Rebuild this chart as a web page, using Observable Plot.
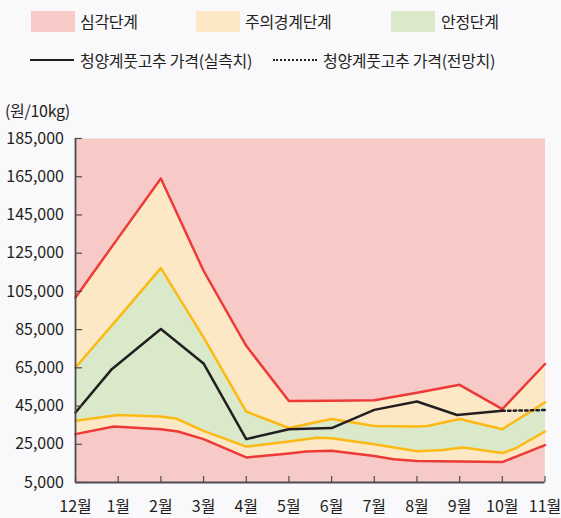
<!DOCTYPE html>
<html>
<head>
<meta charset="utf-8">
<script src="https://cdn.jsdelivr.net/npm/d3@7"></script>
<script src="https://cdn.jsdelivr.net/npm/@observablehq/plot@0.6"></script>
<style>
  html, body { margin: 0; padding: 0; background: #f9f8fb; }
  body { width: 561px; height: 518px; overflow: hidden; font-family: "Noto Sans CJK KR", "Noto Sans", sans-serif; color: #231f20; }
  #legend { position: relative; width: 561px; height: 120px; }
  .sw { position: absolute; width: 44px; height: 21px; top: 11px; }
  .lt { position: absolute; font-size: 16px; line-height: 20px; white-space: nowrap; letter-spacing: -0.3px; }
  .ln { position: absolute; width: 44px; top: 59px; }
  #unit { position: absolute; left: 5px; top: 100px; font-size: 16px; line-height: 20px; letter-spacing: -0.3px; }
  #chart svg { display: block; }
</style>
</head>
<body>
<div id="legend"></div>
<div id="chart"></div>
<script>
// ---- data (month index: 0 = 12월 ... 11 = 11월; value in 원/10kg) ----
const monthLabels = ["12월","1월","2월","3월","4월","5월","6월","7월","8월","9월","10월","11월"];
const yTicks = [5000, 25000, 45000, 65000, 85000, 105000, 125000, 145000, 165000, 185000];
const legendLabels = ["심각단계", "주의경계단계", "안정단계", "청양계풋고추 가격(실측치)", "청양계풋고추 가격(전망치)"];
const unitLabel = "(원/10kg)";

// 심각단계 upper bound (red, upper)
const redUpper = [[0,101800],[1,133000],[2,164100],[3,115800],[4,76500],[5,47700],[6,47800],[7,48000],[8,52000],[9,56100],[10,43400],[11,67000]];
// 주의경계 upper bound (orange, upper)
const orangeUpper = [[0,65200],[1,91000],[2,117200],[3,80900],[4,42100],[5,33500],[6,38200],[7,34600],[8,34300],[8.25,34600],[9,38200],[10,32900],[11,46900]];
// 주의경계 lower bound (orange, lower)
const orangeLower = [[0,37300],[1,40300],[2,39500],[2.35,38500],[3,32000],[4,23800],[5,26400],[5.65,28400],[6,28100],[7,25000],[8,21300],[8.6,22000],[9.08,23300],[10,20400],[10.3,22800],[11,31700]];
// 심각단계 lower bound (red, lower)
const redLower = [[0,30300],[0.9,34300],[2,32900],[2.4,31700],[3,27700],[4,18100],[5,20200],[5.4,21200],[6,21600],[7,18900],[7.45,17200],[8,16300],[9,16000],[10,15700],[11,24600]];
// 청양계풋고추 가격 (실측치)
const priceActual = [[0,41600],[0.85,64300],[2,85300],[3,67300],[4,27700],[5,32900],[6,33500],[7,43000],[8,47400],[8.94,40300],[10,42500]];
// 청양계풋고추 가격 (전망치)
const priceForecast = [[10,42500],[11,42900]];

// ---- colours ----
const C = {
  pink: "#f8cac7", yellow: "#fde8c6", green: "#dae9c9",
  red: "#ee3a37", orange: "#fdb913", black: "#231f20", axis: "#4d4d4f"
};

// ---- legend (HTML, above the SVG) ----
const lg = document.getElementById("legend");
function el(cls, style, text) {
  const d = document.createElement("div");
  d.className = cls;
  Object.assign(d.style, style);
  if (text) d.textContent = text;
  lg.appendChild(d);
}
el("sw", {left: "31px", background: C.pink});
el("lt", {left: "80px", top: "11px"}, legendLabels[0]);
el("sw", {left: "196px", background: C.yellow});
el("lt", {left: "245px", top: "11px"}, legendLabels[1]);
el("sw", {left: "391px", background: C.green});
el("lt", {left: "441px", top: "11px"}, legendLabels[2]);
el("ln", {left: "30px", borderTop: "2.5px solid " + C.black});
el("lt", {left: "80px", top: "50px"}, legendLabels[3]);
el("ln", {left: "273px", borderTop: "2.5px dotted " + C.black});
el("lt", {left: "323px", top: "50px"}, legendLabels[4]);
const u = document.createElement("div");
u.id = "unit"; u.textContent = unitLabel; lg.appendChild(u);

// ---- chart ----
const X = d => d[0], Y = d => d[1], BASE = () => 5000;
const chart = Plot.plot({
  width: 561,
  height: 398,
  marginTop: 18,
  marginBottom: 36,
  marginLeft: 75,
  marginRight: 16.5,
  style: {background: "transparent", fontFamily: "'Noto Sans CJK KR', 'Noto Sans', sans-serif", fontSize: "16px", color: "#231f20"},
  x: {domain: [0, 11]},
  y: {domain: [5000, 185000]},
  marks: [
    Plot.frame({fill: C.pink, stroke: null}),
    Plot.areaY(redUpper, {x: X, y1: BASE, y2: Y, fill: C.yellow}),
    Plot.areaY(orangeUpper, {x: X, y1: BASE, y2: Y, fill: C.green}),
    Plot.areaY(orangeLower, {x: X, y1: BASE, y2: Y, fill: C.yellow}),
    Plot.areaY(redLower, {x: X, y1: BASE, y2: Y, fill: C.pink}),
    Plot.line(redUpper, {x: X, y: Y, stroke: C.red, strokeWidth: 2.5}),
    Plot.line(redLower, {x: X, y: Y, stroke: C.red, strokeWidth: 2.5}),
    Plot.line(orangeUpper, {x: X, y: Y, stroke: C.orange, strokeWidth: 2.5}),
    Plot.line(orangeLower, {x: X, y: Y, stroke: C.orange, strokeWidth: 2.5}),
    Plot.line(priceActual, {x: X, y: Y, stroke: C.black, strokeWidth: 2.5}),
    Plot.line(priceForecast, {x: X, y: Y, stroke: C.black, strokeWidth: 2.5, strokeDasharray: "2.5 3.2"}),
    Plot.axisY({ticks: yTicks, tickFormat: d3.format(","), tickSize: -7, tickPadding: 18.5, stroke: C.axis, strokeWidth: 1.2, fill: "#231f20", label: null}),
    Plot.axisX({ticks: d3.range(0, 12), tickFormat: i => monthLabels[i], tickSize: -6, tickPadding: 24.5, stroke: C.axis, strokeWidth: 1.2, fill: "#231f20", label: null}),
    Plot.ruleX([0], {stroke: C.axis, strokeWidth: 1.8}),
    Plot.ruleY([5000], {stroke: C.axis, strokeWidth: 1.8})
  ]
});
document.getElementById("chart").appendChild(chart);
</script>
</body>
</html>
